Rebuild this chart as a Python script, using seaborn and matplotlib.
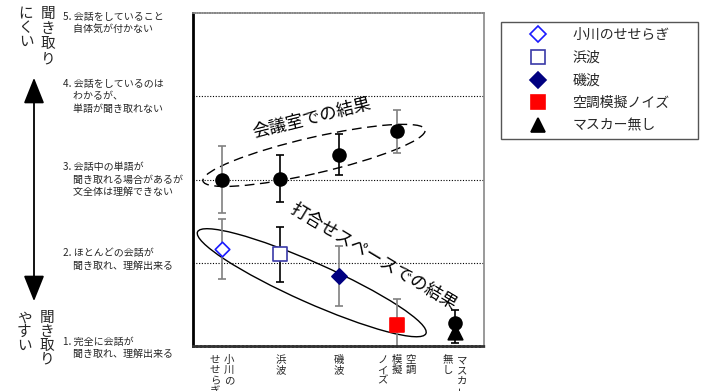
import matplotlib
matplotlib.use('Agg')
import matplotlib.pyplot as plt
import matplotlib.transforms as mtransforms
from matplotlib.patches import Ellipse, FancyArrowPatch
from matplotlib.lines import Line2D
import seaborn as sns
import pandas as pd

# data
categories = ['小川のせせらぎ', '浜波', '磯波', '空調模擬ノイズ', 'マスカー無し']
tick_columns = [['小川の', 'せせらぎ'], ['浜波'], ['磯波'], ['空調', '模擬', 'ノイズ'], ['マスカー', '無し']]
room_mean = [3.00, 3.01, 3.30, 3.58, 1.28]
room_err = [0.40, 0.28, 0.25, 0.26, 0.15]
space_mean = [2.17, 2.10, 1.84, 1.25, 1.17]
space_err = [0.36, 0.33, 0.36, 0.31, 0.13]
level_labels = ['1. 完全に会話が\n　聞き取れ、理解出来る',
                '2. ほとんどの会話が\n　聞き取れ、理解出来る',
                '3. 会話中の単語が\n　聞き取れる場合があるが\n　文全体は理解できない',
                '4. 会話をしているのは\n　わかるが、\n　単語が聞き取れない',
                '5. 会話をしていること\n　自体気が付かない']
level_pos = [0.98, 2.04, 3.0, 4.0, 4.88]

sns.set_theme(style='white')
plt.rcParams['font.family'] = ['Noto Sans CJK JP', 'DejaVu Sans']

W, H = 710, 391
fig = plt.figure(figsize=(W / 100, H / 100), dpi=100)
ax = fig.add_axes([193 / W, 1 - 346 / H, 291 / W, 333 / H])
ax.set_xlim(-0.5, 4.5)
ax.set_ylim(1, 5)
ax.set_xticks([])
ax.set_yticks([])

# frame
for side in ['top', 'right']:
    ax.spines[side].set_color('#888888')
    ax.spines[side].set_linewidth(1.2)
ax.spines['top'].set_linestyle((0, (1, 0.5)))
ax.spines['left'].set_color('black')
ax.spines['left'].set_linewidth(2)
ax.spines['bottom'].set_color('#333333')
ax.spines['bottom'].set_linewidth(2)
ax.spines['bottom'].set_linestyle((0, (1, 0.5)))

ax.hlines([2, 3, 4], -0.5, 4.5, colors='black', linestyles=(0, (1, 1.5)), linewidth=0.8, zorder=1)

x = list(range(len(categories)))
room_ecolor = ['#808080', 'black', 'black', '#808080', 'black']
space_ecolor = ['#808080', 'black', '#808080', '#808080', 'black']
for i in x:
    ax.errorbar(i, room_mean[i], yerr=room_err[i], fmt='none', ecolor=room_ecolor[i],
                elinewidth=1.2, capsize=3, capthick=1.2, zorder=2)
    ax.errorbar(i, space_mean[i], yerr=space_err[i], fmt='none', ecolor=space_ecolor[i],
                elinewidth=1.2, capsize=3, capthick=1.2, zorder=2)

room_df = pd.DataFrame({'x': x, 'y': room_mean})
sns.scatterplot(data=room_df, x='x', y='y', color='black', s=110, marker='o',
                edgecolor='black', linewidth=0, ax=ax, zorder=4)

space_markers = ['D', 's', 'D', 's', '^']
space_face = ['white', 'white', '#000080', '#ff0000', 'black']
space_edge = ['#1a1aff', '#3a3aa8', '#000080', '#ff0000', 'black']
space_size = [55, 100, 60, 110, 110]
for i in x:
    ax.scatter(i, space_mean[i], marker=space_markers[i], s=space_size[i],
               facecolor=space_face[i], edgecolor=space_edge[i], linewidth=1.2, zorder=5)

ax.set_xlabel('')
ax.set_ylabel('')

# ellipses
def ellipse(cx, cy, w, h, ang, **kw):
    tr = fig.dpi_scale_trans + mtransforms.ScaledTranslation(cx, cy, ax.transData)
    e = Ellipse((0, 0), w / 100, h / 100, angle=ang, transform=tr, fill=False,
                clip_on=False, **kw)
    ax.add_artist(e)

ellipse(1.58, 3.29, 228, 36, 13, edgecolor='black', linewidth=1, linestyle=(0, (7, 4)))
ellipse(1.54, 1.76, 250, 40, -24, edgecolor='black', linewidth=1)

ax.text(1.54, 3.74, '会議室での結果', rotation=14, rotation_mode='anchor',
        ha='center', va='center', fontsize=12.5, color='black', zorder=6)
ax.text(2.6, 2.07, '打合せスペースでの結果', rotation=-31, rotation_mode='anchor',
        ha='center', va='center', fontsize=12.5, color='black', zorder=6)

# vertical tick labels (columns read right to left, one character per text)
for i, cols in enumerate(tick_columns):
    n = len(cols)
    for j, col in enumerate(cols):
        dx = (n - 1) / 2 * 14 - j * 14
        for k, ch in enumerate(col):
            ax.annotate(ch, xy=(i, 0), xycoords=('data', 'axes fraction'),
                        xytext=(dx, -14 - k * 10.3), textcoords='offset pixels',
                        ha='center', va='center', fontsize=7.5,
                        rotation=90 if ch == 'ー' else 0, annotation_clip=False)

# level labels
yt = ax.get_yaxis_transform()
for lab, pos in zip(level_labels, level_pos):
    ax.text(-0.447, pos, lab, transform=yt, ha='left', va='center', fontsize=7.2,
            linespacing=1.3, clip_on=False)

# left side arrow and captions
def fig_vtext(xp, yp, s, step, size=10.5):
    for k, ch in enumerate(s):
        fig.text(xp / W, 1 - (yp + k * step) / H, ch, ha='center', va='center', fontsize=size)

fig_vtext(48, 14, '聞き取り', 15)
fig_vtext(26, 14, 'にくい', 14)
fig_vtext(47, 318, '聞き取り', 14)
fig_vtext(24, 318, 'やすい', 14)

arrow = FancyArrowPatch((34 / W, 1 - 75 / H), (34 / W, 1 - 304 / H), transform=fig.transFigure,
                        arrowstyle='<|-|>,head_length=0.8,head_width=0.32', mutation_scale=20,
                        color='black', linewidth=1.3)
fig.add_artist(arrow)

# legend
handles = [Line2D([], [], linestyle='none', marker=space_markers[i], markersize=8 if space_markers[i] == 'D' else 10,
                  markerfacecolor=space_face[i], markeredgecolor=space_edge[i], markeredgewidth=1.2)
           for i in x]
leg = fig.legend(handles, categories, loc='upper left',
                 bbox_to_anchor=(501 / W, 1 - 141 / H, 197 / W, 119 / H), mode='expand',
                 bbox_transform=fig.transFigure, borderaxespad=0, fontsize=10,
                 handlelength=4.4, handletextpad=0.3, labelspacing=0.62, borderpad=0.45,
                 fancybox=False, framealpha=1, edgecolor='#555555')
leg.get_frame().set_linewidth(1)

fig.savefig('out.png', dpi=100)
